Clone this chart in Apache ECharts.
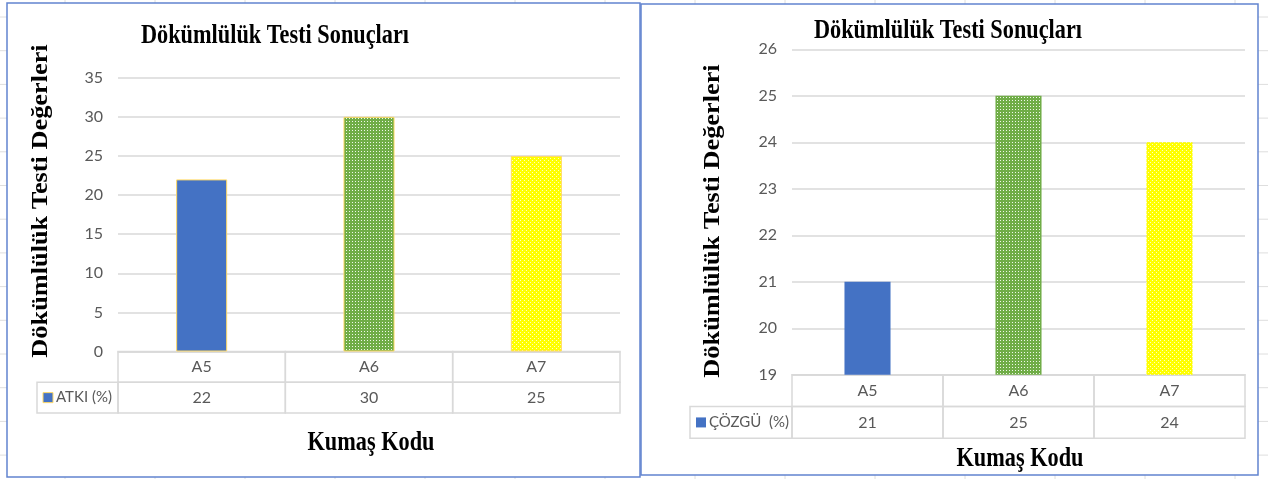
<!DOCTYPE html>
<html>
<head>
<meta charset="utf-8">
<script src="https://cdn.jsdelivr.net/npm/echarts@6/dist/echarts.min.js"></script>
<style>
  html, body { margin: 0; padding: 0; background: #ffffff; }
  #main { width: 1268px; height: 479px; }
</style>
</head>
<body>
<div id="main"></div>
<script>
// ---- data ----
const categories = ['A5', 'A6', 'A7'];
const atkiValues = [22, 30, 25];
const cozguValues = [21, 25, 24];
const atkiAxis = { min: 0, max: 35, interval: 5 };
const cozguAxis = { min: 19, max: 26, interval: 1 };
const seriesNames = ['ATKI (%)', 'ÇÖZGÜ  (%)'];
const chartTitle = 'Dökümlülük Testi Sonuçları';
const valueAxisName = 'Dökümlülük Testi Değerleri';
const categoryAxisName = 'Kumaş Kodu';

// ---- styling helpers ----
const SERIF = '"Liberation Serif", "Times New Roman", serif';
const SANS = 'Lato, "Noto Sans", sans-serif';
const GRAY_TEXT = '#595959';
const CELL_LINE = '#D9D9D9';

function dotFill(base, dot, w, h, dots) {
  const c = document.createElement('canvas');
  c.width = w; c.height = h;
  const g = c.getContext('2d');
  g.fillStyle = base;
  g.fillRect(0, 0, w, h);
  g.fillStyle = dot;
  dots.forEach(([x, y]) => g.fillRect(x, y, 1, 1));
  return { image: c, repeat: 'repeat' };
}

const barFills = [
  '#4472C4',
  dotFill('#70AD47', '#F0F8EA', 3, 3, [[1, 1]]),
  dotFill('#FFFF00', '#FFFFC0', 4, 4, [[0, 0], [2, 2]])
];

// ---- layout of the two panels ----
const panels = [
  {
    box: { x: 7, y: 3, w: 633, h: 474 },
    grid: { left: 118, top: 77.7, width: 502, height: 273.8 },
    tableH: 61.5, legendW: 81,
    title: [275, 36], yName: [41, 201], xName: [371, 443],
    axis: atkiAxis, values: atkiValues, name: seriesNames[0],
    barBorder: '#FFD966', keyBorder: '#FFD966'
  },
  {
    box: { x: 641, y: 4, w: 617, h: 471 },
    grid: { left: 792, top: 49.3, width: 453, height: 325.5 },
    tableH: 63.5, legendW: 102,
    title: [948, 31], yName: [713, 221], xName: [1020, 459],
    axis: cozguAxis, values: cozguValues, name: seriesNames[1],
    barBorder: null, keyBorder: null
  }
];

const STRETCH = 1.18;
const LABEL_SIZE = 16;

function tableRenderer(p) {
  return function (params, api) {
    const i = api.value(0);
    const v = api.value(1);
    const w = api.size([1, 0])[0];
    const top = api.coord([i, 2]);
    const mid = api.coord([i, 1]);
    const bot = api.coord([i, 0]);
    const x0 = top[0] - w / 2;
    const line = { stroke: CELL_LINE, lineWidth: 1.5, fill: null };
    const font = { fill: GRAY_TEXT, fontSize: LABEL_SIZE, fontFamily: SANS };
    const children = [
      { type: 'rect', shape: { x: x0, y: top[1], width: w, height: mid[1] - top[1] }, style: line },
      { type: 'rect', shape: { x: x0, y: mid[1], width: w, height: bot[1] - mid[1] }, style: line },
      { type: 'text', style: Object.assign({ text: categories[i], x: top[0], y: (top[1] + mid[1]) / 2, align: 'center', verticalAlign: 'middle' }, font) },
      { type: 'text', style: Object.assign({ text: String(v), x: top[0], y: (mid[1] + bot[1]) / 2, align: 'center', verticalAlign: 'middle' }, font) }
    ];
    if (i === 0) {
      const lx = x0 - p.legendW;
      const cy = (mid[1] + bot[1]) / 2;
      children.push(
        { type: 'rect', shape: { x: lx, y: mid[1], width: p.legendW, height: bot[1] - mid[1] }, style: line },
        { type: 'rect', shape: { x: lx + 6, y: cy - 5, width: 10, height: 10 },
          style: { fill: barFills[0], stroke: p.keyBorder, lineWidth: p.keyBorder ? 1 : 0 } },
        { type: 'text', style: Object.assign({ text: p.name, x: lx + 19, y: cy, align: 'left', verticalAlign: 'middle' }, font, { fontSize: LABEL_SIZE - 1 }) }
      );
    }
    return { type: 'group', children };
  };
}

const grids = [], xAxes = [], yAxes = [], series = [], graphics = [];

// spreadsheet cell lines behind the panels
for (let x = 65; x < 1268; x += 90) {
  graphics.push({ type: 'line', z: -20, shape: { x1: x, y1: 0, x2: x, y2: 479 }, style: { stroke: '#DEDEDE', lineWidth: 1 } });
}
for (let y = 17; y < 479; y += 33.7) {
  graphics.push({ type: 'line', z: -20, shape: { x1: 0, y1: y, x2: 1268, y2: y }, style: { stroke: '#DEDEDE', lineWidth: 1 } });
}

panels.forEach((p, k) => {
  const gBar = k * 2, gTab = k * 2 + 1;
  grids.push(
    { left: p.grid.left, top: p.grid.top, width: p.grid.width, height: p.grid.height },
    { left: p.grid.left, top: p.grid.top + p.grid.height, width: p.grid.width, height: p.tableH }
  );
  xAxes.push(
    { type: 'category', gridIndex: gBar, data: categories,
      axisLine: { show: true, lineStyle: { color: CELL_LINE, width: 1.5 } },
      axisTick: { show: false }, axisLabel: { show: false } },
    { type: 'category', gridIndex: gTab, data: categories, show: false }
  );
  yAxes.push(
    { type: 'value', gridIndex: gBar, min: p.axis.min, max: p.axis.max, interval: p.axis.interval,
      startValue: p.axis.min,
      axisLine: { show: false }, axisTick: { show: false },
      axisLabel: { color: GRAY_TEXT, fontSize: LABEL_SIZE, fontFamily: SANS, margin: 15 },
      splitLine: { lineStyle: { color: CELL_LINE, width: 1.5 } } },
    { type: 'value', gridIndex: gTab, min: 0, max: 2, show: false }
  );
  series.push(
    { type: 'bar', name: p.name, xAxisIndex: gBar, yAxisIndex: gBar, barWidth: '30.5%',
      data: p.values.map((v, i) => ({
        value: v,
        itemStyle: { color: barFills[i], borderColor: p.barBorder || 'transparent', borderWidth: p.barBorder ? 1 : 0 }
      })),
      silent: true },
    { type: 'custom', xAxisIndex: gTab, yAxisIndex: gTab, clip: false, silent: true,
      data: p.values.map((v, i) => [i, v]),
      renderItem: tableRenderer(p) }
  );
  graphics.push(
    { type: 'rect', z: -10, shape: { x: p.box.x, y: p.box.y, width: p.box.w, height: p.box.h },
      style: { fill: '#ffffff', stroke: '#6284CF', lineWidth: 1.5 } },
    { type: 'text', x: p.title[0], y: p.title[1], scaleY: STRETCH,
      style: { text: chartTitle, fill: '#000', font: 'bold 22.3px ' + SERIF, align: 'center', verticalAlign: 'middle' } },
    { type: 'text', x: p.yName[0], y: p.yName[1], rotation: Math.PI / 2, scaleX: STRETCH,
      style: { text: valueAxisName, fill: '#000', font: 'bold 22.3px ' + SERIF, align: 'center', verticalAlign: 'middle' } },
    { type: 'text', x: p.xName[0], y: p.xName[1], scaleY: STRETCH,
      style: { text: categoryAxisName, fill: '#000', font: 'bold 22.3px ' + SERIF, align: 'center', verticalAlign: 'middle' } }
  );
});

const chart = echarts.init(document.getElementById('main'), null, { renderer: 'canvas' });
chart.setOption({
  animation: false,
  backgroundColor: '#ffffff',
  grid: grids,
  xAxis: xAxes,
  yAxis: yAxes,
  series: series,
  graphic: { elements: graphics }
});
</script>
</body>
</html>
